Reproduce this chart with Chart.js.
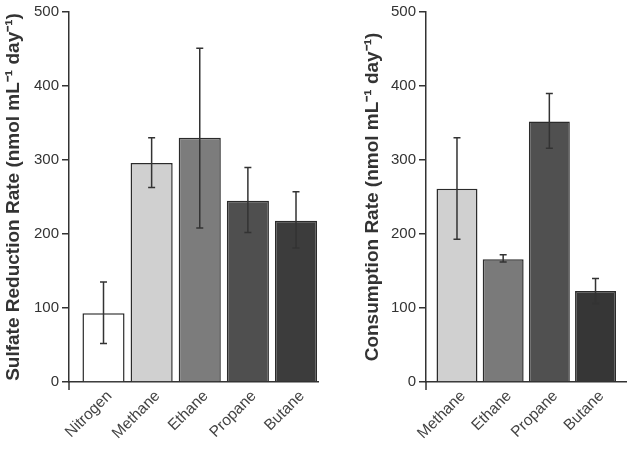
<!DOCTYPE html>
<html>
<head>
<meta charset="utf-8">
<script src="https://cdn.jsdelivr.net/npm/chart.js@4"></script>
<style>
  body { margin: 0; background: #fff; }
  #wrap { position: relative; width: 630px; height: 449px; }
  canvas { position: absolute; top: 0; }
  #left { left: 0; }
  #right { left: 320px; }
</style>
</head>
<body>
<div id="wrap">
  <canvas id="left" width="320" height="449"></canvas>
  <canvas id="right" width="310" height="449"></canvas>
</div>
<script>
// sulfate reduction (left panel)
const srCats = ["Nitrogen", "Methane", "Ethane", "Propane", "Butane"];
const srRate = [93, 296, 330, 245, 218];
const srLow = [52, 263, 208, 202, 181];
const srHigh = [135, 330, 451, 290, 257];
const srColors = ["#ffffff", "#d0d0d0", "#7c7c7c", "#4f4f4f", "#3c3c3c"];

// alkane consumption (right panel)
const consCats = ["Methane", "Ethane", "Propane", "Butane"];
const consRate = [261, 166, 352, 123];
const consLow = [193, 162, 316, 106];
const consHigh = [330, 172, 390, 140];
const consColors = ["#d0d0d0", "#7a7a7a", "#505050", "#363636"];

const yTicks = [0, 100, 200, 300, 400, 500];

const FONT = "'Liberation Sans', Arial, Helvetica, sans-serif";
const INK = "#333";

// whiskers + the little axis stub below the origin
const errorBars = {
  id: "errorBars",
  afterDatasetsDraw(chart, args, opts) {
    const ctx = chart.ctx;
    const y = chart.scales.y;
    const meta = chart.getDatasetMeta(0);
    ctx.save();
    ctx.strokeStyle = INK;
    ctx.lineWidth = 1.5;
    meta.data.forEach((bar, i) => {
      const top = y.getPixelForValue(opts.high[i]);
      const bot = y.getPixelForValue(opts.low[i]);
      ctx.beginPath();
      ctx.moveTo(bar.x, top);
      ctx.lineTo(bar.x, bot);
      ctx.moveTo(bar.x - 3.5, top);
      ctx.lineTo(bar.x + 3.5, top);
      ctx.moveTo(bar.x - 3.5, bot);
      ctx.lineTo(bar.x + 3.5, bot);
      ctx.stroke();
    });
    const a = chart.chartArea;
    ctx.beginPath();
    ctx.moveTo(a.left, a.bottom);
    ctx.lineTo(a.left, a.bottom + 8);
    ctx.stroke();
    ctx.restore();
  }
};

function makeChart(id, cats, vals, low, high, colors, title, xMin, xMax, barPct, padLeft, padRight, yWidth) {
  return new Chart(document.getElementById(id), {
    type: "bar",
    data: {
      datasets: [{
        data: vals.map((v, i) => ({ x: i, y: v })),
        backgroundColor: colors,
        borderColor: "#2b2b2b",
        borderWidth: 1.5,
        barPercentage: barPct,
        categoryPercentage: 1
      }]
    },
    options: {
      responsive: false,
      animation: false,
      layout: { padding: { left: padLeft, right: padRight, top: 12, bottom: 0 } },
      plugins: {
        legend: { display: false },
        tooltip: { enabled: false },
        errorBars: { low: low, high: high }
      },
      scales: {
        x: {
          type: "linear",
          offset: false,
          min: xMin,
          max: xMax,
          grid: { display: false, offset: false },
          border: { display: true, color: INK, width: 1.5 },
          afterBuildTicks: (s) => { s.ticks = cats.map((c, i) => ({ value: i })); },
          afterFit: (s) => { s.height = 67; },
          ticks: {
            autoSkip: false,
            minRotation: 45,
            maxRotation: 45,
            padding: -3,
            labelOffset: 6,
            color: "#444",
            font: { family: FONT, size: 15.5 },
            callback: (v) => cats[v]
          }
        },
        y: {
          min: 0,
          max: 500,
          afterBuildTicks: (s) => { s.ticks = yTicks.map(v => ({ value: v })); },
          afterFit: (s) => { s.width = yWidth; },
          grid: { drawOnChartArea: false, color: INK, lineWidth: 1.5, tickLength: 7 },
          border: { display: true, color: INK, width: 1.5 },
          ticks: {
            padding: 3,
            color: INK,
            font: { family: FONT, size: 15 }
          },
          title: {
            display: true,
            text: title,
            color: INK,
            padding: 0,
            font: { family: FONT, size: 19, weight: "bold" }
          }
        }
      }
    },
    plugins: [errorBars]
  });
}

makeChart("left", srCats, srRate, srLow, srHigh, srColors,
  "Sulfate Reduction Rate (nmol mL\u207B\u00B9 day\u207B\u00B9)",
  -0.717, 4.457, 0.875, 2, 2, 67);

makeChart("right", consCats, consRate, consLow, consHigh, consColors,
  "Consumption Rate (nmol mL\u207B\u00B9 day\u207B\u00B9)",
  -0.671, 3.66, 0.887, 41, 4, 65);
</script>
</body>
</html>
